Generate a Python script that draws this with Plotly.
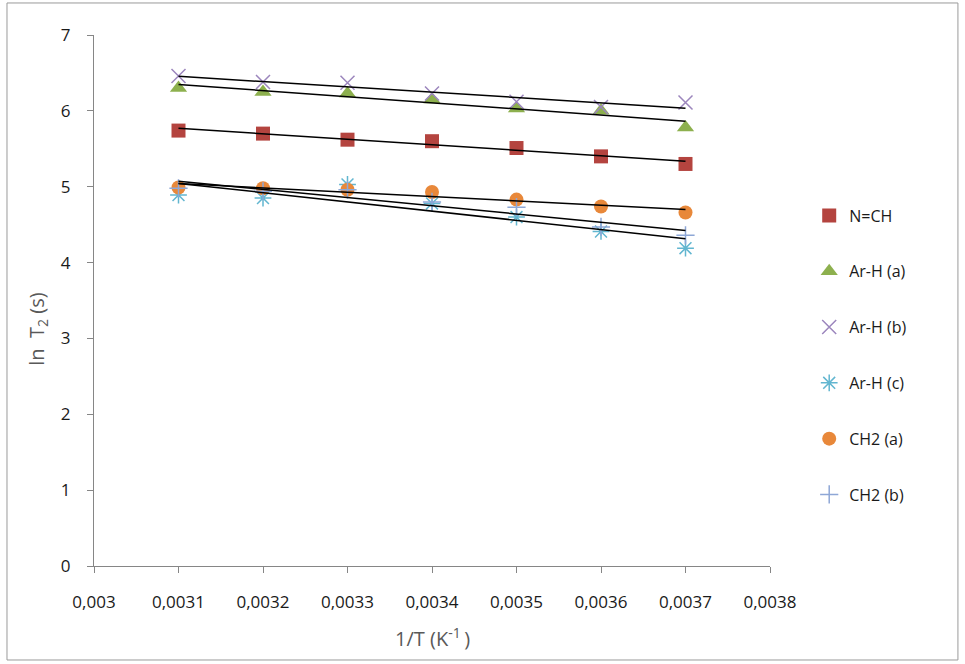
import numpy as np
import plotly.graph_objects as go

# Inverse temperature (K^-1)
inv_T = [0.0031, 0.0032, 0.0033, 0.0034, 0.0035, 0.0036, 0.0037]

# ln T2 for each proton signal
n_ch = [5.74, 5.70, 5.62, 5.60, 5.51, 5.40, 5.30]
ar_h_a = [6.30, 6.25, 6.23, 6.15, 6.03, 6.00, 5.78]
ar_h_b = [6.46, 6.38, 6.37, 6.23, 6.12, 6.05, 6.11]
ar_h_c = [4.89, 4.85, 5.03, 4.78, 4.60, 4.41, 4.19]
ch2_a = [4.99, 4.98, 4.96, 4.93, 4.83, 4.74, 4.66]
ch2_b = [4.98, 4.94, 4.96, 4.80, 4.73, 4.47, 4.36]

series_names = ["N=CH", "Ar-H (a)", "Ar-H (b)", "Ar-H (c)", "CH2 (a)", "CH2 (b)"]

# Axis ticks
x_tickvals = [0.003, 0.0031, 0.0032, 0.0033, 0.0034, 0.0035, 0.0036, 0.0037, 0.0038]
x_ticktext = ["0,003", "0,0031", "0,0032", "0,0033", "0,0034", "0,0035", "0,0036", "0,0037", "0,0038"]
y_tickvals = [0, 1, 2, 3, 4, 5, 6, 7]

series_values = [n_ch, ar_h_a, ar_h_b, ar_h_c, ch2_a, ch2_b]
styles = [
    dict(symbol="square", color="#B4443F", size=14, line=dict(width=0)),
    dict(symbol="triangle-up", color="#8DB04E", size=15, line=dict(width=0)),
    dict(symbol="x-thin-open", color="#9C86BD", size=14, line=dict(width=1.5, color="#9C86BD")),
    dict(symbol="asterisk-open", color="#62B6D0", size=14, line=dict(width=1.5, color="#62B6D0")),
    dict(symbol="circle", color="#E8883A", size=14, line=dict(width=0)),
    dict(symbol="cross-thin-open", color="#8EA7D6", size=13, line=dict(width=1.5, color="#8EA7D6")),
]

fig = go.Figure()

for i, (name, vals, st) in enumerate(zip(series_names, series_values, styles)):
    fig.add_trace(go.Scatter(
        x=inv_T, y=vals, mode="markers", name=name,
        legendgroup=f"g{i}",
        marker=st,
    ))

# Linear trendlines for each series
x_arr = np.array(inv_T)
for vals in series_values:
    slope, icpt = np.polyfit(x_arr, np.array(vals), 1)
    xs = [inv_T[0], inv_T[-1]]
    fig.add_trace(go.Scatter(
        x=xs, y=[slope * v + icpt for v in xs], mode="lines",
        line=dict(color="black", width=1.5), showlegend=False,
        hoverinfo="skip",
    ))

font_family = "'Open Sans', sans-serif"

fig.update_layout(
    width=965, height=664,
    margin=dict(l=94, r=195, t=35, b=98),
    paper_bgcolor="white", plot_bgcolor="white",
    font=dict(family=font_family, size=16, color="#1a1a1a"),
    showlegend=True,
    legend=dict(
        x=1.058, y=0.692, xanchor="left", yanchor="top",
        font=dict(size=16, color="#1a1a1a"),
        tracegroupgap=32, bgcolor="rgba(0,0,0,0)",
    ),
    xaxis=dict(
        range=[0.003, 0.0038], tickvals=x_tickvals, ticktext=x_ticktext,
        showgrid=False, zeroline=False, showline=True, linecolor="#868686",
        linewidth=1, ticks="outside", ticklen=6, tickcolor="#868686",
        ticklabelstandoff=15, tickfont=dict(size=17),
    ),
    yaxis=dict(
        range=[0, 7], tickvals=y_tickvals,
        showgrid=False, zeroline=False, showline=True, linecolor="#868686",
        linewidth=1, ticks="outside", ticklen=6, tickcolor="#868686",
        ticklabelstandoff=13, tickfont=dict(size=17),
    ),
    annotations=[
        dict(text="ln  T<sub>2</sub> (s)", xref="paper", yref="paper",
             x=0, y=0.445, xanchor="center", yanchor="middle", xshift=-56,
             textangle=-90, showarrow=False,
             font=dict(size=20, color="#595959", family=font_family)),
        dict(text="1/T (K<sup>-1 </sup>)", xref="paper", yref="paper",
             x=0.5, y=0, xanchor="center", yanchor="middle", yshift=-71,
             showarrow=False,
             font=dict(size=20, color="#595959", family=font_family)),
    ],
    shapes=[
        dict(type="rect", xref="paper", yref="paper",
             x0=-0.1287, x1=1.278, y0=-0.177, y1=1.0603,
             line=dict(color="#9a9a9a", width=1), fillcolor="rgba(0,0,0,0)",
             layer="below"),
    ],
)

fig.write_html("out.html")
